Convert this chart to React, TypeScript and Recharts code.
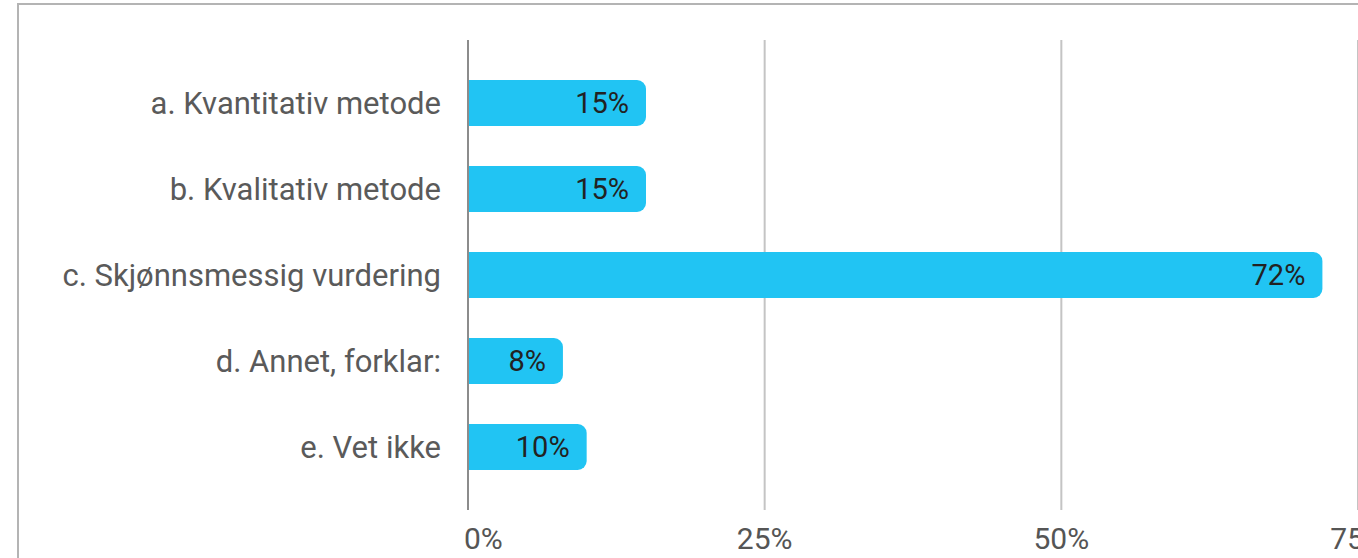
import React from 'react';
import { BarChart, Bar, XAxis, YAxis, CartesianGrid, LabelList } from 'recharts';

const categories = [
  'a. Kvantitativ metode',
  'b. Kvalitativ metode',
  'c. Skjønnsmessig vurdering',
  'd. Annet, forklar:',
  'e. Vet ikke',
];
const values = [15, 15, 72, 8, 10];
const xTicks = [0, 25, 50, 75];

const data = categories.map((name, i) => ({ name, value: values[i] }));

const XTick = (props: any) => {
  const { x, y, payload } = props;
  const first = payload.value === 0;
  return (
    <text
      x={first ? x - 4 : x}
      y={y}
      dy="0.71em"
      textAnchor={first ? 'start' : 'middle'}
      fill="#555"
      fontSize={30}
      fontFamily="Roboto"
    >
      {`${payload.value}%`}
    </text>
  );
};

export default function App() {
  return (
    <div style={{ position: 'absolute', left: 0, top: 0, width: 1358, height: 558, overflow: 'hidden', background: '#fff' }}>
      <div style={{ position: 'absolute', left: 17, top: 3, width: 1500, height: 700, border: '2px solid #b4b4b4', boxSizing: 'border-box' }} />
      <div style={{ position: 'absolute', left: 0, top: 0 }}>
        <BarChart
          width={1358}
          height={558}
          data={data}
          layout="vertical"
          margin={{ top: 40, right: 0, left: 0, bottom: 18 }}
        >
          <CartesianGrid horizontal={false} stroke="#c4c4c4" strokeWidth={2} />
          <XAxis
            type="number"
            domain={[0, 75]}
            ticks={xTicks}
            axisLine={false}
            tickLine={false}
            height={30}
            tickMargin={12}
            tick={<XTick />}
            interval={0}
          />
          <YAxis
            type="category"
            dataKey="name"
            width={468}
            padding={{ top: 20, bottom: 20 }}
            axisLine={{ stroke: '#8c8c8c', strokeWidth: 2 }}
            tickLine={false}
            tickMargin={21}
            tick={{ fill: '#5a5a5a', fontSize: 31, fontFamily: 'Roboto' }}
            interval={0}
          />
          <Bar dataKey="value" fill="#21C4F3" barSize={46} radius={[0, 9, 9, 0]} isAnimationActive={false}>
            <LabelList
              dataKey="value"
              position="insideRight"
              offset={17}
              formatter={(v: number) => `${v}%`}
              style={{ fill: '#222', fontSize: 29, fontFamily: 'Roboto' }}
            />
          </Bar>
        </BarChart>
      </div>
    </div>
  );
}
